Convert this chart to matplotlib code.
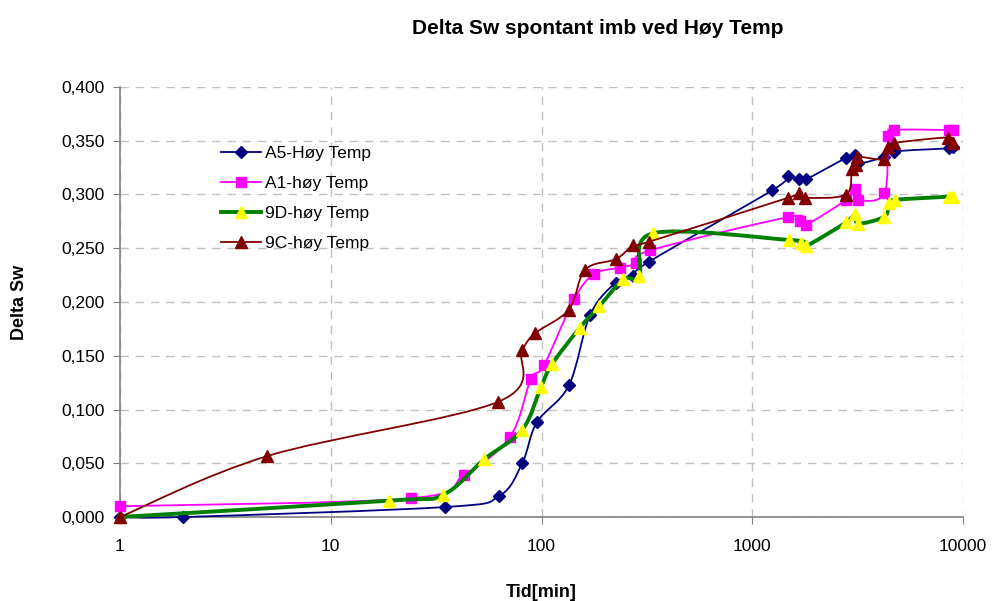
import matplotlib.pyplot as plt
import matplotlib.ticker as mticker
from matplotlib.path import Path
from matplotlib.patches import PathPatch
from matplotlib.lines import Line2D
import numpy as np

plt.rcParams['font.family'] = ['Liberation Sans', 'DejaVu Sans']

# data (time in minutes, delta Sw)
a5_t = [1, 2, 35, 63, 81, 95, 135, 170, 225, 271, 324, 1245, 1483, 1672, 1794,
        2786, 3076, 3187, 4234, 4723, 8600, 9000]
a5_sw = [0, 0, 0.0093, 0.0195, 0.050, 0.088, 0.1225, 0.188, 0.218, 0.224, 0.2375,
         0.304, 0.317, 0.314, 0.314, 0.334, 0.337, 0.329, 0.335, 0.340, 0.343, 0.344]

a1_t = [1, 24, 43, 71, 89, 103, 143, 178, 236, 281, 327, 1483, 1686, 1794,
        2786, 3076, 3187, 4234, 4423, 4723, 8600, 9000]
a1_sw = [0.010, 0.0174, 0.039, 0.0747, 0.128, 0.1414, 0.2028, 0.226, 0.232, 0.236,
         0.248, 0.279, 0.2753, 0.2716, 0.295, 0.305, 0.295, 0.301, 0.354, 0.360,
         0.360, 0.360]

d9_t = [1, 19, 34, 53.5, 81, 99.5, 112, 152, 188, 244, 291, 339, 1500, 1700, 1799,
        2786, 3076, 3187, 4234, 4470, 4757, 8600, 9000]
d9_sw = [0, 0.0152, 0.0205, 0.0537, 0.081, 0.121, 0.142, 0.176, 0.196, 0.221, 0.224,
         0.264, 0.2577, 0.255, 0.252, 0.274, 0.2816, 0.273, 0.2794, 0.2918, 0.295,
         0.298, 0.298]

c9_t = [1, 5, 62, 81, 93.5, 135, 161, 226, 273, 323, 1483, 1672, 1780, 2786, 2965,
        3112, 3155, 4234, 4423, 4723, 8500, 9000]
c9_sw = [0, 0.0567, 0.107, 0.155, 0.171, 0.193, 0.230, 0.240, 0.253, 0.256, 0.297,
         0.301, 0.297, 0.300, 0.3237, 0.3274, 0.335, 0.3327, 0.3445, 0.348, 0.353, 0.348]

labels = ['A5-Høy Temp', 'A1-høy Temp', '9D-høy Temp', '9C-høy Temp']
x_ticks = [1, 10, 100, 1000, 10000]


def smooth_path(t, v):
    # excel style smoothed line: catmull-rom bezier in log-x space
    u = np.log10(np.asarray(t, float))
    v = np.asarray(v, float)
    pts = np.column_stack([u, v])
    n = len(pts)
    verts = [pts[0]]
    codes = [Path.MOVETO]
    for i in range(n - 1):
        p0 = pts[i - 1] if i > 0 else pts[i]
        p1 = pts[i]
        p2 = pts[i + 1]
        p3 = pts[i + 2] if i + 2 < n else pts[i + 1]
        c1 = p1 + (p2 - p0) / 6.0
        c2 = p2 - (p3 - p1) / 6.0
        verts += [c1, c2, p2]
        codes += [Path.CURVE4] * 3
    verts = np.array(verts)
    verts[:, 0] = 10 ** verts[:, 0]
    return Path(verts, codes)


fig = plt.figure(figsize=(9.94, 6.01), dpi=100)
ax = fig.add_axes([120 / 994, 84 / 601, 843 / 994, 430 / 601])
ax.set_xscale('log')
ax.set_xlim(1, 10000)
ax.set_ylim(0, 0.4)

series = [
    (a5_t, a5_sw, '#000080', 1.3, 'D', 6.5, '#000080'),
    (a1_t, a1_sw, '#FF00FF', 1.3, 's', 7.5, '#FF00FF'),
    (d9_t, d9_sw, '#008000', 2.8, '^', 8.0, '#FFFF00'),
    (c9_t, c9_sw, '#800000', 1.3, '^', 8.0, '#800000'),
]

handles = []
for k, (t, sw, col, lw, mk, ms, mcol) in enumerate(series):
    patch = PathPatch(smooth_path(t, sw), facecolor='none', edgecolor=col, lw=lw,
                      transform=ax.transData, zorder=3 + 2 * k, clip_on=False)
    ax.add_patch(patch)
    ax.plot(t, sw, linestyle='none', marker=mk, ms=ms, color=mcol, mec=mcol,
            zorder=4 + 2 * k, clip_on=False)
    handles.append(Line2D([], [], color=col, lw=lw, marker=mk, ms=ms,
                          mfc=mcol, mec=mcol))

ax.legend(handles, labels, loc='upper left', bbox_to_anchor=(221 / 994, 1 - 146 / 601),
          bbox_transform=fig.transFigure, frameon=False, fontsize=12.5,
          handlelength=2.3, handletextpad=0.25, labelspacing=0.85, borderpad=0,
          borderaxespad=0)

ax.set_xticks(x_ticks)
ax.xaxis.set_major_formatter(mticker.FuncFormatter(lambda v, p: f'{v:.0f}'))
ax.xaxis.set_minor_locator(mticker.NullLocator())
ax.set_yticks(np.arange(0, 0.4001, 0.05))
ax.yaxis.set_major_formatter(mticker.FuncFormatter(lambda v, p: f'{v:.3f}'.replace('.', ',')))

ax.grid(True, which='major', color='#c0c0c0', linestyle=(0, (6, 5)), lw=1.0)
ax.set_axisbelow(True)
for s in ['top', 'right']:
    ax.spines[s].set_visible(False)
for s in ['left', 'bottom']:
    ax.spines[s].set_color('#808080')
    ax.spines[s].set_linewidth(1.2)
ax.tick_params(axis='both', labelsize=12.5, colors='#808080', labelcolor='black',
               length=5, direction='out')
ax.tick_params(axis='y', pad=6)
ax.tick_params(axis='x', pad=11)

ax.set_ylabel('Delta Sw', fontsize=13, fontweight='bold')
ax.yaxis.set_label_coords(-92 / 843, 0.5)
ax.set_xlabel('Tid[min]', fontsize=13, fontweight='bold')
ax.xaxis.set_label_coords(0.5, -67 / 430)
fig.text(598 / 994, 1 - 28 / 601, 'Delta Sw spontant imb ved Høy Temp', fontsize=15,
         fontweight='bold', ha='center', va='center')

fig.savefig('out.png', dpi=100)
